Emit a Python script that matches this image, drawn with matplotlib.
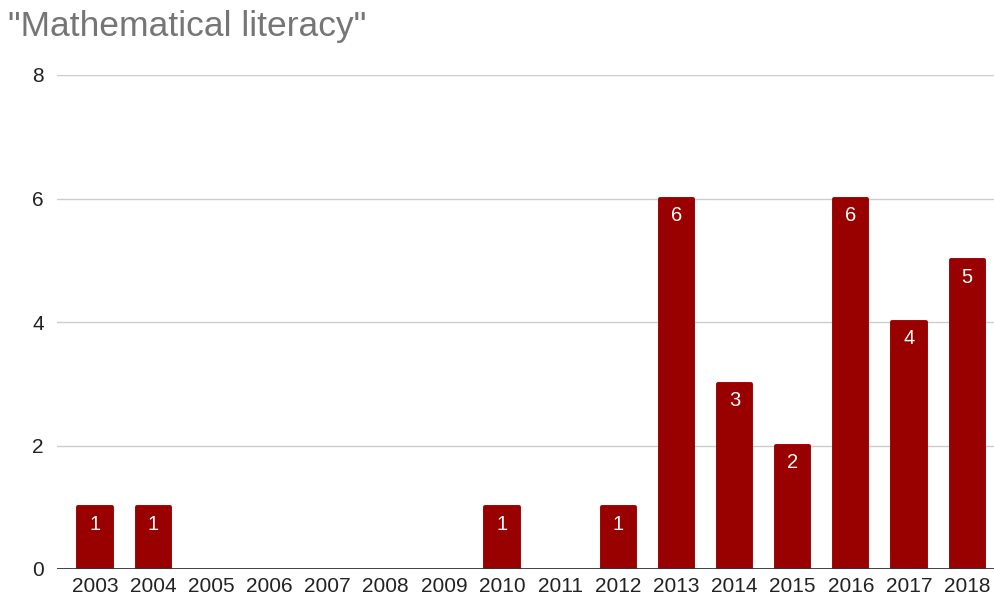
import matplotlib
matplotlib.use("Agg")
import matplotlib.pyplot as plt

years = ["2003", "2004", "2005", "2006", "2007", "2008", "2009", "2010",
         "2011", "2012", "2013", "2014", "2015", "2016", "2017", "2018"]
counts = [1, 1, 0, 0, 0, 0, 0, 1, 0, 1, 6, 3, 2, 6, 4, 5]
yticks = [0, 2, 4, 6, 8]
title = '"Mathematical literacy"'

plt.rcParams['font.family'] = ['Liberation Sans', 'DejaVu Sans']

fig = plt.figure(figsize=(9.95, 5.99), dpi=100)
ax = fig.add_axes([57/995, 1-569/599, (995-57)/995, (569-75)/599])

x = list(range(len(years)))
bars = ax.bar(x, counts, width=0.57, color="#990000", edgecolor="#990000",
              linewidth=[2.8 if v > 0 else 0 for v in counts],
              joinstyle="round", zorder=3)
for xi, v in zip(x, counts):
    if v > 0:
        ax.annotate(str(v), (xi, v), xytext=(0, -17), textcoords="offset pixels",
                    ha="center", va="center", color="white", fontsize=14.5, zorder=4)

ax.set_xlim(-0.654, 15.48)
ax.set_ylim(0, 8)
ax.set_yticks(yticks)
ax.set_yticklabels([str(t) for t in yticks])
ax.set_xticks(x)
ax.set_xticklabels(years)
ax.grid(axis="y", color="#cccccc", linewidth=1, zorder=0)
ax.axhline(0, color="#333333", linewidth=1.3, zorder=5)
for s in ax.spines.values():
    s.set_visible(False)
ax.tick_params(axis="both", length=0, labelsize=15, colors="#222222")
ax.tick_params(axis="y", pad=9.4)
ax.tick_params(axis="x", pad=6)

fig.text(8/995, 1-36/599, title, fontsize=25.5, color="#757575", ha="left", va="baseline")

fig.savefig("out.png", dpi=100)
